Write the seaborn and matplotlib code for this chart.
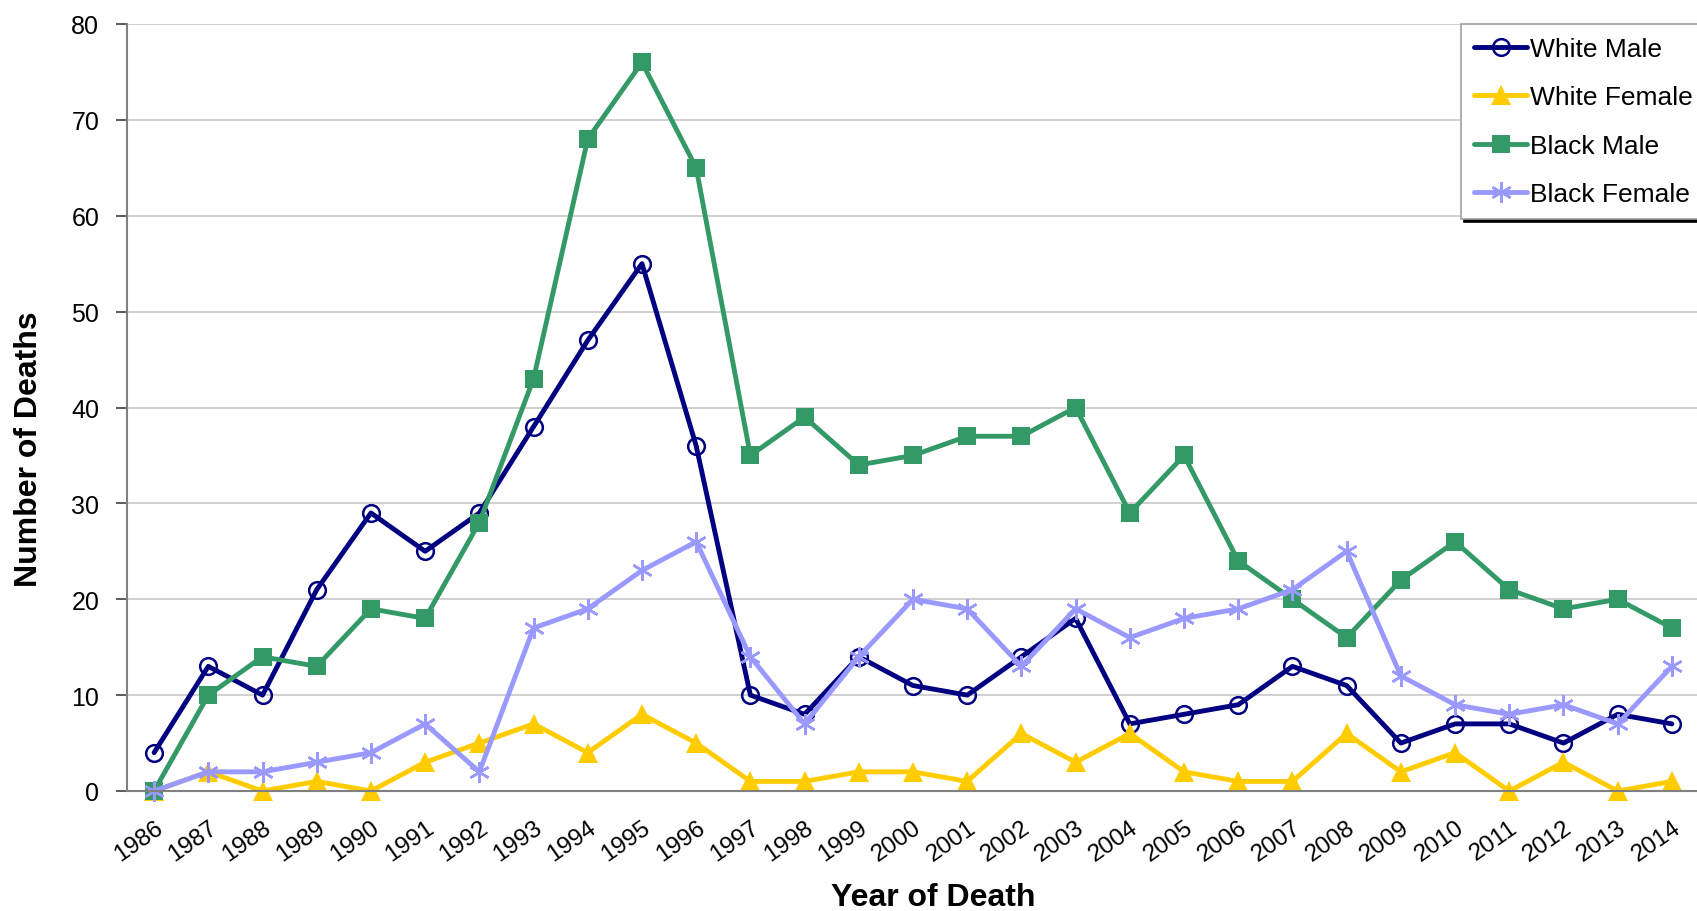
import numpy as np
import pandas as pd
import matplotlib
matplotlib.use("Agg")
import matplotlib.pyplot as plt
import seaborn as sns

years = list(range(1986, 2015))

white_male = [4, 13, 10, 21, 29, 25, 29, 38, 47, 55, 36, 10, 8, 14, 11, 10, 14, 18,
              7, 8, 9, 13, 11, 5, 7, 7, 5, 8, 7]
white_female = [0, 2, 0, 1, 0, 3, 5, 7, 4, 8, 5, 1, 1, 2, 2, 1, 6, 3,
                6, 2, 1, 1, 6, 2, 4, 0, 3, 0, 1]
black_male = [0, 10, 14, 13, 19, 18, 28, 43, 68, 76, 65, 35, 39, 34, 35, 37, 37, 40,
              29, 35, 24, 20, 16, 22, 26, 21, 19, 20, 17]
black_female = [0, 2, 2, 3, 4, 7, 2, 17, 19, 23, 26, 14, 7, 14, 20, 19, 13, 19,
                16, 18, 19, 21, 25, 12, 9, 8, 9, 7, 13]

series = {
    "White Male": white_male,
    "White Female": white_female,
    "Black Male": black_male,
    "Black Female": black_female,
}

sns.set_style("white")
plt.rcParams['font.family'] = ['Liberation Sans', 'DejaVu Sans']
plt.rcParams['text.color'] = 'black'

fig = plt.figure(figsize=(16.97, 9.12), dpi=100)
ax = fig.add_axes([127 / 1697, 1 - 792 / 912, 1572 / 1697, 767 / 912])

# one style per series: colour, marker, size, fill
styles = {
    "White Male": dict(color="#000080", marker="o", ms=12, mfc="none", mew=1.8),
    "White Female": dict(color="#FFCC00", marker="^", ms=14, mfc="#FFCC00", mew=0),
    "Black Male": dict(color="#339966", marker="s", ms=13, mfc="#339966", mew=0),
    "Black Female": dict(color="#9999FF", marker=(6, 2, 0), ms=15, mfc="#9999FF", mew=1.8),
}

for name, vals in series.items():
    st = styles[name]
    sns.lineplot(x=years, y=vals, ax=ax, color=st["color"], marker=st["marker"],
                 markersize=st["ms"], markerfacecolor=st["mfc"],
                 markeredgecolor=st["color"], markeredgewidth=st["mew"],
                 linewidth=3.5, label=name, clip_on=False)

ax.set_xlim(1985.5, 2014.5)
ax.set_ylim(0, 80)
ax.set_yticks(np.arange(0, 81, 10))
ax.yaxis.grid(True, color="#c8c8c8", linewidth=1.2)
ax.xaxis.grid(False)

ax.set_xticks(years)
ax.set_xticklabels([str(y) for y in years], rotation=35, ha="right",
                   rotation_mode="anchor", fontsize=17.5)
ax.set_xticks(np.arange(1985.5, 2015, 1), minor=True)
ax.tick_params(axis="x", which="major", length=0, pad=18, labelcolor="black")
ax.tick_params(axis="x", which="minor", length=8, width=1.2, color="#808080", direction="out")
ax.tick_params(axis="y", length=8, width=1.2, color="#404040", direction="out",
               pad=12, labelsize=18, left=True, labelcolor="black")

for side in ["top", "right"]:
    ax.spines[side].set_visible(False)
for side in ["left", "bottom"]:
    ax.spines[side].set_color("#808080")
    ax.spines[side].set_linewidth(1.5)

ax.set_xlabel("")
ax.set_ylabel("")
fig.text(933 / 1697, 1 - 898 / 912, "Year of Death", ha="center", va="center",
         fontsize=23, fontweight="bold")
fig.text(29 / 1697, 1 - 449 / 912, "Number of Deaths", ha="center", va="center",
         rotation=90, fontsize=23, fontweight="bold")

leg = ax.legend(loc="upper left", bbox_to_anchor=(1461 / 1697, 1 - 25 / 912),
                bbox_transform=fig.transFigure, fontsize=19, frameon=True,
                fancybox=False, framealpha=1, edgecolor="#a0a0a0",
                shadow={"color": "black", "alpha": 1}, handlelength=2.0,
                handletextpad=0.1, labelspacing=0.92, borderpad=0.5,
                borderaxespad=0, numpoints=1)
leg.get_frame().set_linewidth(1.2)

fig.savefig("out.png", dpi=100)
